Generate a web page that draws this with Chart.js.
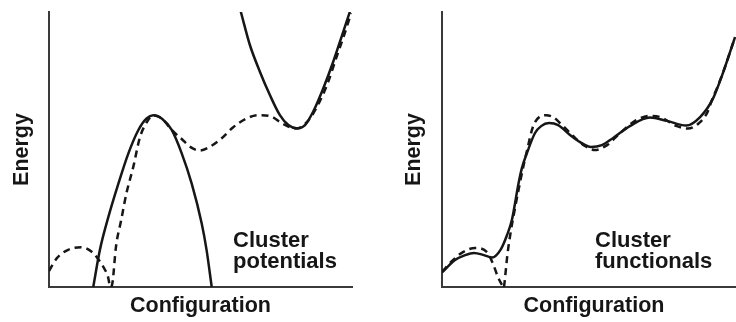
<!DOCTYPE html>
<html>
<head>
<meta charset="utf-8">
<script src="https://cdn.jsdelivr.net/npm/chart.js@4"></script>
<style>
  html, body { margin: 0; padding: 0; background: #fff; overflow: hidden; }
  #wrap { position: relative; width: 736px; height: 322px; overflow: hidden; }
  canvas { position: absolute; top: 0; }
  #leftChart { left: 0; }
  #rightChart { left: 368px; }
</style>
</head>
<body>
<div id="wrap">
  <canvas id="leftChart" width="368" height="322"></canvas>
  <canvas id="rightChart" width="378" height="322"></canvas>
</div>
<script>
// --- Left panel: cluster potentials ---
const potBarrierX = [1.46, 1.68, 1.96, 2.29, 2.62, 2.95, 3.22, 3.44, 3.72, 4.05, 4.38, 4.71, 5.04, 5.20, 5.37];
const potBarrierY = [0, 1.35, 2.55, 3.76, 4.86, 5.71, 6.13, 6.25, 6.13, 5.71, 4.86, 3.76, 2.31, 1.35, 0];
const potWellX = [6.33, 6.63, 6.96, 7.29, 7.62, 7.90, 8.17, 8.45, 8.72, 9.05, 9.38, 9.71, 9.93];
const potWellY = [10.01, 8.80, 7.83, 6.98, 6.25, 5.89, 5.77, 5.89, 6.38, 7.22, 8.19, 9.28, 10.01];

// exact energy (dashed), two branches meeting at the cusp
const exactLeftAX = [0, 0.26, 0.63, 1.06, 1.42, 1.62, 1.85, 1.95, 2.01];
const exactLeftAY = [0.58, 1.05, 1.35, 1.45, 1.27, 1.02, 0.62, 0.36, 0];
const exactLeftBX = [2.06, 2.10, 2.21, 2.38, 2.55, 2.78, 3.00, 3.23, 3.44, 3.72, 4.05, 4.38, 4.70, 4.98,
                     5.31, 5.70, 6.08, 6.52, 6.91, 7.35, 7.69, 8.15, 8.55, 8.94, 9.21, 9.50, 9.74, 9.97];
const exactLeftBY = [0, 0.19, 1.46, 2.42, 3.38, 4.36, 5.44, 6.00, 6.25, 6.13, 5.71, 5.38, 5.07, 4.96,
                     5.10, 5.41, 5.81, 6.13, 6.25, 6.19, 5.95, 5.76, 6.04, 6.76, 7.45, 8.40, 9.16, 9.96];

// --- Right panel: cluster functionals ---
const funcX = [0, 0.43, 0.76, 1.05, 1.38, 1.64, 1.94, 2.14, 2.30, 2.52, 2.63, 2.83, 3.06, 3.26, 3.52, 3.82,
               4.21, 4.54, 4.90, 5.26, 5.63, 6.18, 6.84, 7.40, 8.03, 8.49, 8.91, 9.24, 9.64];
const funcY = [0.53, 0.98, 1.16, 1.24, 1.16, 1.07, 1.38, 1.89, 2.44, 3.78, 4.33, 4.98, 5.60, 5.85, 5.96, 5.89,
               5.53, 5.27, 5.09, 5.16, 5.42, 5.85, 6.16, 6.04, 5.87, 6.18, 6.84, 7.78, 9.09];

const exactRightAX = [0, 0.36, 0.69, 1.09, 1.48, 1.68, 1.84, 2.01];
const exactRightAY = [0.55, 0.98, 1.27, 1.42, 1.27, 0.84, 0.36, 0];
const exactRightBX = [2.04, 2.07, 2.15, 2.27, 2.42, 2.57, 2.70, 2.80, 2.99, 3.26, 3.42, 3.65, 3.95, 4.38, 4.70,
                      5.03, 5.43, 5.86, 6.35, 6.84, 7.17, 7.73, 8.09, 8.42, 8.72, 8.88, 9.05, 9.24, 9.64];
const exactRightBY = [0, 0.29, 1.16, 2.07, 2.98, 3.82, 4.51, 4.98, 5.82, 6.22, 6.25, 6.18, 5.89, 5.42, 5.13,
                      4.98, 5.16, 5.60, 6.04, 6.22, 6.18, 5.85, 5.76, 5.93, 6.33, 6.80, 7.24, 7.78, 9.09];

const INK = '#161616';
const FONT = '"Liberation Sans", Arial, Helvetica, sans-serif';

function pts(xs, ys) {
    return xs.map((x, i) => ({ x: x, y: ys[i] }));
}

function curve(xs, ys, dashed) {
    return {
        data: pts(xs, ys),
        showLine: true,
        borderColor: INK,
        borderWidth: 2.5,
        borderDash: dashed ? [7, 5] : [],
        pointRadius: 0,
        cubicInterpolationMode: 'monotone',
        fill: false
    };
}

// draws the "Cluster ..." note inside the plot
const notePlugin = {
    id: 'note',
    afterDraw(chart, args, opts) {
        const ctx = chart.ctx;
        ctx.save();
        ctx.fillStyle = INK;
        ctx.font = 'bold 22px ' + FONT;
        ctx.textBaseline = 'alphabetic';
        opts.lines.forEach((t, i) => ctx.fillText(t, opts.x, opts.y + i * 20.5));
        ctx.restore();
    }
};

function makeChart(id, datasets, yWidth, rightPad, energyPad, note) {
    const axisBorder = { display: true, color: '#3a3a3a', width: 2 };
    return new Chart(document.getElementById(id), {
        type: 'scatter',
        data: { datasets: datasets },
        options: {
            responsive: false,
            animation: false,
            layout: { padding: { top: 12, right: rightPad, left: 0, bottom: 0 } },
            plugins: { legend: { display: false }, tooltip: { enabled: false }, note: note },
            scales: {
                x: {
                    type: 'linear', min: 0, max: 10,
                    grid: { display: false, drawTicks: false },
                    ticks: { display: false },
                    border: axisBorder,
                    title: { display: true, text: 'Configuration', color: INK,
                             font: { family: FONT, size: 21.5, weight: 'bold' }, padding: { top: 0, bottom: 3 } },
                    afterFit: s => { s.height = 35; }
                },
                y: {
                    type: 'linear', min: 0, max: 10,
                    grid: { display: false, drawTicks: false },
                    ticks: { display: false },
                    border: axisBorder,
                    title: { display: true, text: 'Energy', color: INK,
                             font: { family: FONT, size: 21.5, weight: 'bold' }, padding: { top: energyPad, bottom: 0 } },
                    afterFit: s => { s.width = yWidth; }
                }
            }
        },
        plugins: [notePlugin]
    });
}

makeChart('leftChart', [
    curve(potBarrierX, potBarrierY, false),
    curve(potWellX, potWellY, false),
    curve(exactLeftAX, exactLeftAY, true),
    curve(exactLeftBX, exactLeftBY, true)
], 49, 16, 9, { x: 233, y: 247, lines: ['Cluster', 'potentials'] });

makeChart('rightChart', [
    curve(funcX, funcY, false),
    curve(exactRightAX, exactRightAY, true),
    curve(exactRightBX, exactRightBY, true)
], 74, 0, 33, { x: 227, y: 247, lines: ['Cluster', 'functionals'] });
</script>
</body>
</html>
